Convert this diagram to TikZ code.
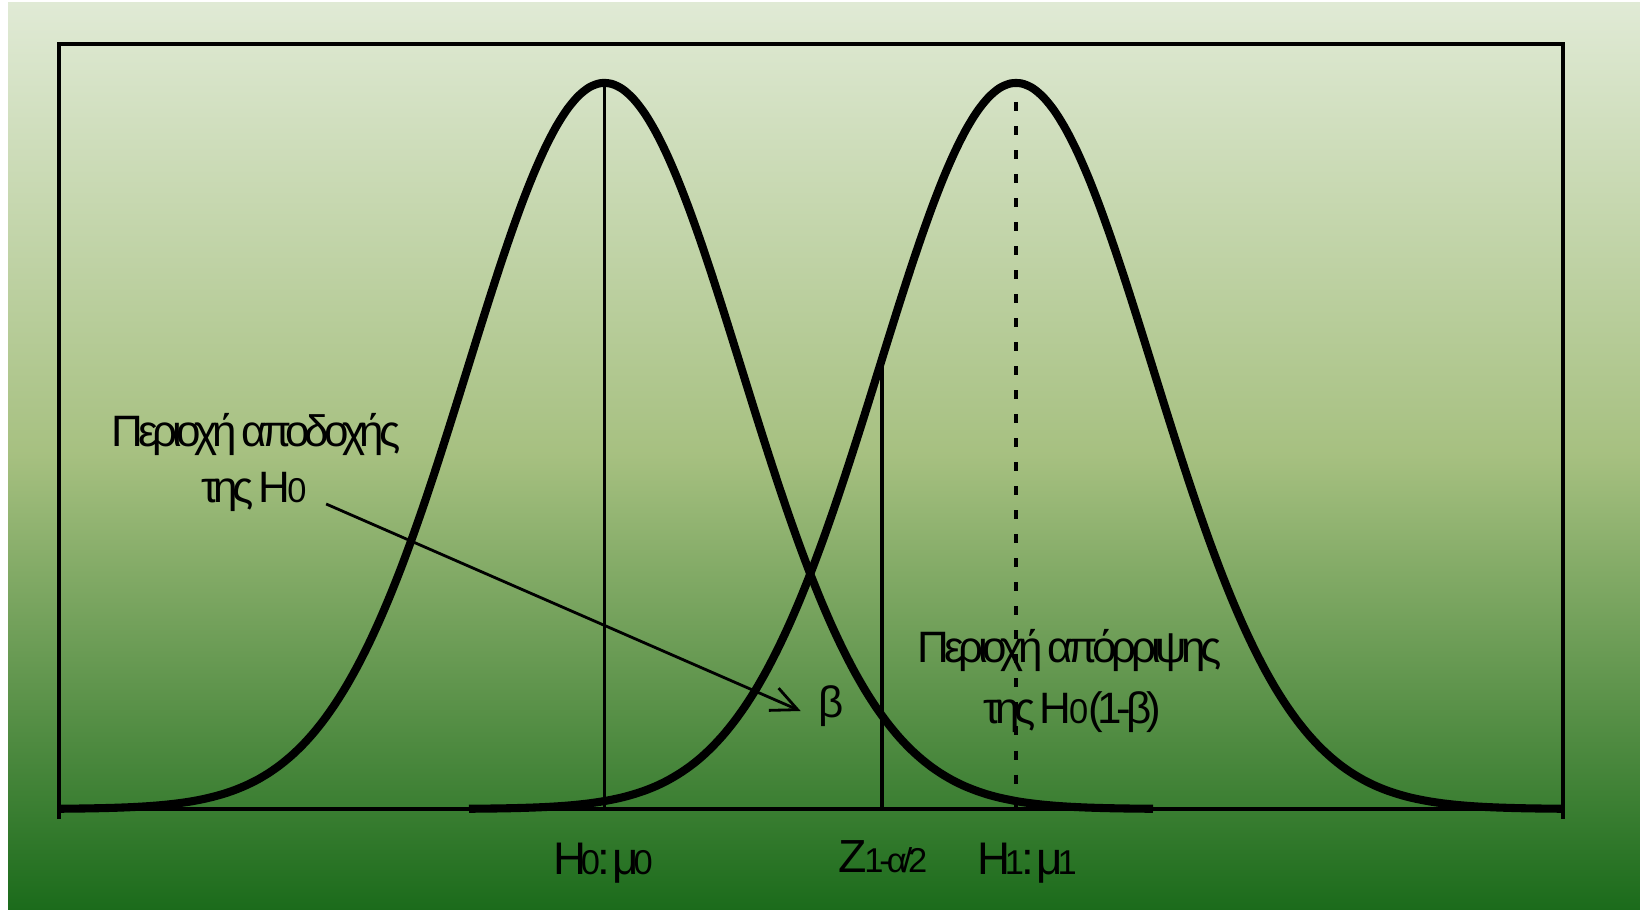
\documentclass[tikz,border=0pt]{standalone}
\usepackage{fontspec}
\setmainfont{Liberation Sans}
\newfontfamily\grk[LetterSpace=-12,WordSpace=0.6]{Liberation Sans}
\newfontfamily\grkax[LetterSpace=-20,WordSpace=0.3]{Liberation Sans}
\usetikzlibrary{arrows.meta,calc}
\definecolor{bgtop}{RGB}{224,234,213}
\definecolor{bgmid}{RGB}{166,192,128}
\definecolor{bgbot}{RGB}{27,107,27}
\newcommand\ix[1]{{\kern-0.06em\fontsize{9.8}{10}\selectfont #1}}
\newcommand\ixx[1]{{\kern-0.12em\fontsize{9.8}{10}\selectfont #1}\kern-0.05em}
\begin{document}
\begin{tikzpicture}[
                x=0.01cm, y=-0.01cm,
                curve/.style={line width=2.3pt, smooth, samples=100},
                frame/.style={line width=1.15pt},
                lbl/.style={font=\grk\fontsize{12.5}{15}\selectfont, inner sep=0pt, anchor=base},
                axlbl/.style={font=\grkax\fontsize{13}{15}\selectfont, inner sep=0pt, anchor=base},
                arr/.style={line width=0.8pt, -{Straight Barb[length=7.4pt,width=6.9pt]}}
                ]
                % background
                \fill[white] (0,0) rectangle (1640,910);
                \shade[top color=bgtop, bottom color=bgmid] (8,3) rectangle (1640,457);
                \shade[top color=bgmid, bottom color=bgbot] (8,456) rectangle (1640,910);
                % frame and axis
                \draw[frame] (59,819) -- (59,44) -- (1563,44) -- (1563,819);
                \draw[frame] (59,809) -- (1563,809);
                % the two curves
                \draw[curve] plot[domain=59:1153] (\x, {809-726*exp(-0.5*((\x-604.5)/137)*((\x-604.5)/137))});
                \draw[curve] plot[domain=469:1563] (\x, {809-726*exp(-0.5*((\x-1016)/137)*((\x-1016)/137))});
                % vertical lines
                \coordinate (p0) at (604.5,83);
                \coordinate (m0) at (604.5,809);
                \coordinate (zt) at (882, {809-726*exp(-0.5*((882-1016)/137)*((882-1016)/137))});
                \coordinate (zb) at (882,809);
                \coordinate (p1) at (1016,102);
                \coordinate (m1) at (1016,820);
                \draw[line width=1.1pt] (p0) -- (m0);
                \draw[line width=1.1pt] (zt) -- (zb);
                \draw[line width=1.4pt, dash pattern=on 2.56pt off 4.27pt] (p1) -- (m1);
                % labels
                \node[lbl] (acc) at (256,447) {Περιοχή αποδοχής};
                \node[lbl] (accb) at (254,503) {της H\ix{0}};
                \node[lbl] (rej) at (1070,662) {Περιοχή απόρριψης};
                \node[lbl] (rejb) at (1072,723) {της H\ix{0}(1-β)};
                \node[lbl] (beta) at (831,717) {β};
                \node[axlbl] (h0) at (602,874) {H\ixx{0}: μ\ixx{0}};
                \node[lbl, font=\grk\fontsize{13.2}{15}\selectfont] (z) at (883,872) {Z\ix{1-α/2}};
                \node[axlbl] (h1) at (1026,874) {H\ixx{1}: μ\ixx{1}};
                \draw[arr] ($(accb.base east)+(19,1)$) -- ($(beta.base west)+(-17,-6)$);
            \end{tikzpicture}
\end{document}
